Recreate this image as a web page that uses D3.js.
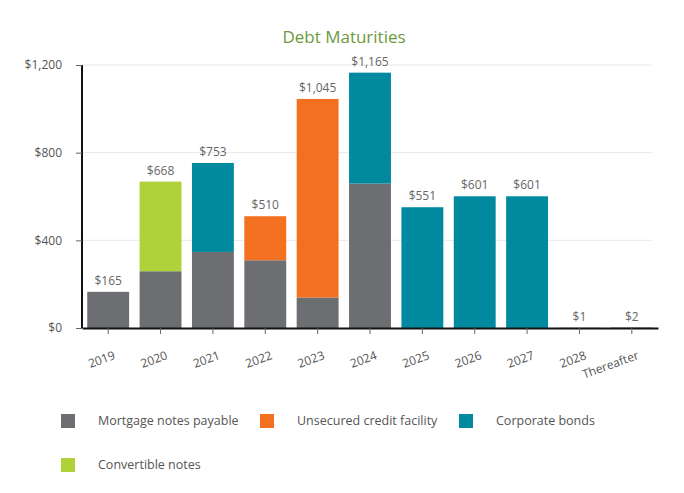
<!DOCTYPE html>
<html>
<head>
<meta charset="utf-8">
<script src="https://cdn.jsdelivr.net/npm/d3@7"></script>
<style>
  html, body { margin: 0; padding: 0; background: #fff; }
  svg { display: block; font-family: "Open Sans", "Noto Sans", sans-serif; }
</style>
</head>
<body>
<svg id="chart" width="684" height="493"></svg>
<script>
const categories = ["2019", "2020", "2021", "2022", "2023", "2024", "2025", "2026", "2027", "2028", "Thereafter"];
const seriesNames = ["Mortgage notes payable", "Unsecured credit facility", "Corporate bonds", "Convertible notes"];
const mortgage   = [165, 259, 347, 309, 139, 659, 0, 0, 0, 1, 2];
const unsecured  = [0, 0, 0, 201, 906, 0, 0, 0, 0, 0, 0];
const corporate  = [0, 0, 406, 0, 0, 506, 551, 601, 601, 0, 0];
const convertible = [0, 409, 0, 0, 0, 0, 0, 0, 0, 0, 0];
const totals = [165, 668, 753, 510, 1045, 1165, 551, 601, 601, 1, 2];
const yTicks = [0, 400, 800, 1200];
const colors = ["#6d6e71", "#f37021", "#00899f", "#afd13a"];

const svg = d3.select("#chart");
const margin = { left: 82, right: 26, top: 65, bottom: 165 };
const W = 684, H = 493;
const x = d3.scaleBand().domain(categories).range([margin.left, W - margin.right]).paddingInner(0.2).paddingOuter(0.1);
const y = d3.scaleLinear().domain([0, 1200]).range([H - margin.bottom, margin.top]);

const rows = categories.map((c, i) => ({
  cat: c,
  [seriesNames[0]]: mortgage[i],
  [seriesNames[1]]: unsecured[i],
  [seriesNames[2]]: corporate[i],
  [seriesNames[3]]: convertible[i]
}));
const stack = d3.stack().keys(seriesNames)(rows);

// gridlines
svg.append("g").selectAll("line").data(yTicks.filter(d => d > 0)).join("line")
  .attr("x1", margin.left).attr("x2", W - margin.right - 6)
  .attr("y1", d => y(d)).attr("y2", d => y(d))
  .attr("stroke", "#e8e8e8").attr("stroke-width", 1);

// title
svg.append("text").attr("x", 344).attr("y", 43).attr("text-anchor", "middle")
  .attr("fill", "#6a9a3c").attr("font-size", 17).text("Debt Maturities");

// bars
svg.append("g").selectAll("g").data(stack).join("g")
  .attr("fill", (d, i) => colors[i])
  .selectAll("rect").data(d => d).join("rect")
  .attr("x", d => x(d.data.cat))
  .attr("width", x.bandwidth())
  .attr("y", d => y(d[1]))
  .attr("height", d => Math.max(0, y(d[0]) - y(d[1])));

// value labels
svg.append("g").selectAll("text").data(categories).join("text")
  .attr("x", c => x(c) + x.bandwidth() / 2)
  .attr("y", (c, i) => y(totals[i]) - 7)
  .attr("text-anchor", "middle").attr("fill", "#666").attr("font-size", 12)
  .text((c, i) => "$" + d3.format(",")(totals[i]));

// y axis
const yAxis = svg.append("g").attr("transform", `translate(${margin.left},0)`)
  .call(d3.axisLeft(y).tickValues(yTicks).tickSize(6).tickPadding(14).tickFormat(d => "$" + d3.format(",")(d)));
yAxis.select(".domain").attr("stroke", "#111").attr("stroke-width", 2).attr("d", `M0,${y(1200)}V${y(0)}`);
yAxis.selectAll(".tick line").attr("stroke", "#666");
yAxis.selectAll(".tick text").attr("fill", "#555").attr("font-size", 12).attr("font-family", "Open Sans, sans-serif");

// x axis
const xAxis = svg.append("g").attr("transform", `translate(0,${y(0)})`)
  .call(d3.axisBottom(x).tickSize(6).tickSizeOuter(0));
xAxis.select(".domain").attr("stroke", "#111").attr("stroke-width", 2);
xAxis.selectAll(".tick line").attr("stroke", "#666");
xAxis.selectAll(".tick text")
  .attr("fill", "#555").attr("font-size", 12).attr("font-family", "Open Sans, sans-serif")
  .attr("text-anchor", "end")
  .attr("transform", "translate(1,12) rotate(-20)")
  .attr("dy", "0.9em");

// legend
const legendPos = [[61, 414], [260, 414], [459, 414], [61, 458]];
const lg = svg.append("g").selectAll("g").data(seriesNames).join("g")
  .attr("transform", (d, i) => `translate(${legendPos[i][0]},${legendPos[i][1]})`);
lg.append("rect").attr("width", 14).attr("height", 14).attr("fill", (d, i) => colors[i]);
lg.append("text").attr("x", 37).attr("y", 7).attr("dy", "0.35em")
  .attr("fill", "#555").attr("font-size", 12.5).text(d => d);
</script>
</body>
</html>
